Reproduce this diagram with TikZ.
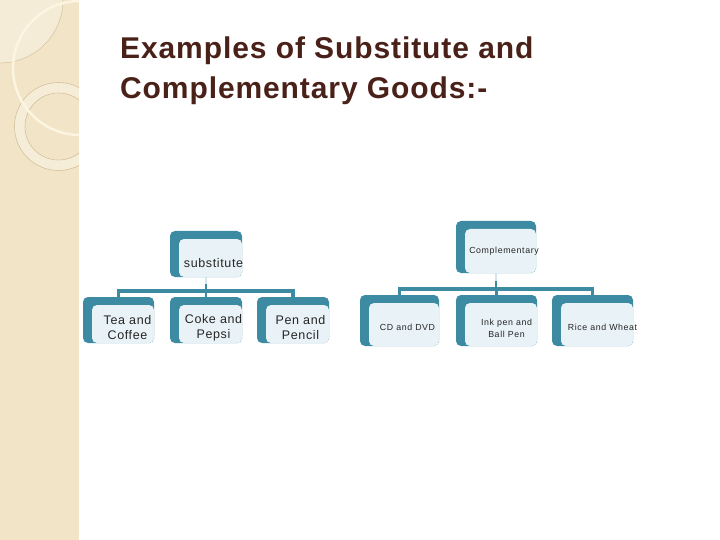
\documentclass[tikz,border=0pt]{standalone}
\usepackage{fontspec}
\setmainfont{Liberation Sans}[LetterSpace=5]
\definecolor{tealA}{HTML}{3C8BA2}
\definecolor{lightA}{HTML}{E9F2F6}
\definecolor{paleA}{HTML}{D3E5EC}
\definecolor{titleC}{HTML}{4A2118}
\definecolor{stripC}{HTML}{F2E4C6}
\definecolor{lineT}{HTML}{D5C19B}
\definecolor{creamC}{HTML}{FCF5E2}
\tikzset{
  gbox/.style 2 args={rectangle, rounded corners=5pt, fill=tealA, inner sep=0pt,
    minimum width=#1, minimum height=#2,
    path picture={\fill[lightA, rounded corners=5pt]
      ([xshift=9pt,yshift=-8pt]path picture bounding box.north west)
      rectangle (path picture bounding box.south east);}},
  lbl/.style={align=center, text=black!85, inner sep=0pt},
  big/.style={lbl, font=\fontsize{12.5}{15}\selectfont},
  small/.style={lbl, font=\fontsize{8.8}{12}\selectfont\addfontfeatures{LetterSpace=7}},
  conn/.style={draw=tealA, line width=3.2pt},
  vconn/.style={draw=tealA, line width=2.6pt},
  pconn/.style={draw=paleA, line width=2pt},
  title/.style={font=\fontsize{30}{40}\selectfont\bfseries\addfontfeatures{LetterSpace=3}, text=titleC, align=left, inner sep=0pt}
}
\begin{document}
\begin{tikzpicture}[x=1pt,y=-1pt]
\useasboundingbox (0,0) rectangle (720,540);
\fill[white] (0,0) rectangle (720,540);
% left decorative strip
\fill[stripC] (0,0) rectangle (79,540);
\begin{scope}
  \clip (0,0) rectangle (79,540);
  \fill[white, opacity=0.3] (0,0) circle (63);
  \draw[lineT, line width=0.5pt] (0,0) circle (63);
  \fill[white, opacity=0.35, even odd rule] (58.5,126.5) circle (44) (58.5,126.5) circle (33.5);
  \draw[lineT, line width=0.6pt] (58.5,126.5) circle (44);
  \draw[lineT, line width=0.6pt] (58.5,126.5) circle (33.5);
  \draw[creamC, line width=2.5pt] (80,68) circle (67);
\end{scope}
% title
\node[title, anchor=north west] (title) at (120,37) {Examples of Substitute and\\Complementary Goods:-};
% left group
\node[gbox={72pt}{46pt}, label={[big, xshift=7.5pt, yshift=-9pt]center:substitute}] (sub) at (206,254) {};
\node[gbox={71pt}{46pt}, label={[big, xshift=9pt, yshift=-8pt]center:{Tea and\\Coffee}}] (tea) at (118.5,320) {};
\node[gbox={72pt}{46pt}, label={[big, xshift=7.5pt, yshift=-8pt]center:{Coke and\\Pepsi}}] (coke) at (206,320) {};
\node[gbox={72pt}{46pt}, label={[big, xshift=7.5pt, yshift=-8pt]center:{Pen and\\Pencil}}] (pen) at (293,320) {};
\coordinate (lbar) at (206,291);
\draw[pconn] (sub.south) -- (lbar);
\draw[vconn] (lbar) -- ++(0,-7);
\draw[conn] (tea.north) |- (lbar) -| (pen.north);
\draw[vconn] (coke.north) -- (coke.north |- lbar);
% right group
\node[gbox={80pt}{52pt}, label={[small, xshift=8pt, yshift=-4pt]center:Complementary}] (comp) at (496,247) {};
\node[gbox={79pt}{51pt}, label={[small, xshift=8pt, yshift=-7pt]center:CD and DVD}] (cd) at (399.5,320.5) {};
\node[gbox={81pt}{51pt}, label={[small, xshift=10pt, yshift=-8pt]center:{Ink pen and\\Ball Pen}}] (ink) at (496.5,320.5) {};
\node[gbox={81pt}{51pt}, label={[small, xshift=10pt, yshift=-7pt]center:Rice and Wheat}] (rice) at (592.5,320.5) {};
\coordinate (rbar) at (496,289);
\draw[pconn] (comp.south) -- (rbar);
\draw[vconn] (rbar) -- ++(0,-8);
\draw[conn] (cd.north) |- (rbar) -| (rice.north);
\draw[vconn] (ink.north) -- (ink.north |- rbar);
\end{tikzpicture}
\end{document}
